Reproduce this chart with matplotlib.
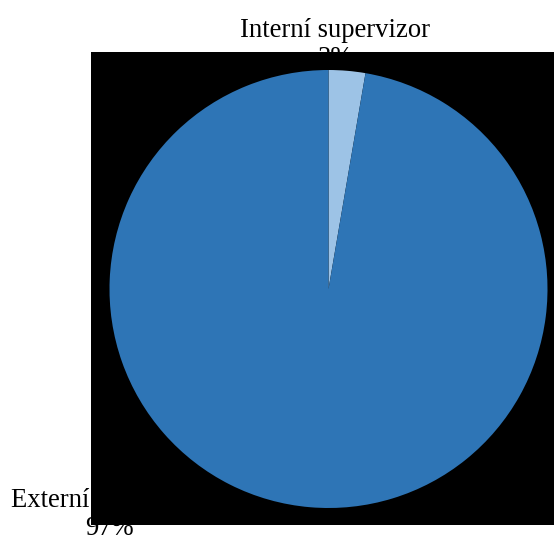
import matplotlib.pyplot as plt
from matplotlib.patches import Rectangle

# odpovedi respondentu
kategorie = ['Interní supervizor', 'Externí supervizor']
pocty = [1, 36]
barvy = ['#9DC3E6', '#2E75B6']

plt.rcParams['font.family'] = ['Liberation Serif', 'DejaVu Serif']

fig = plt.figure(figsize=(5.54, 5.36), dpi=100)
fig.patch.set_facecolor('white')

# kolac: stred (328.5, 247) px, polomer 219 px
ax = fig.add_axes([(328.5 - 219) / 554, (247 - 219) / 536, 438 / 554, 438 / 536])
wedges, _ = ax.pie(pocty, colors=barvy, startangle=90, counterclock=False,
                   radius=1, wedgeprops=dict(linewidth=0))
for w in wedges:
    w.set_zorder(5)
ax.set_xlim(-1, 1)
ax.set_ylim(-1, 1)
ax.set_aspect('equal')

# cerne pozadi pres popisky
ax.add_patch(Rectangle((91 / 554, 11 / 536), 1 - 91 / 554, (525 - 52) / 536,
                       transform=fig.transFigure, facecolor='black',
                       edgecolor='none', zorder=4, clip_on=False))

celkem = sum(pocty)
pozice = [(0.03, 1.118), (-1.0, -1.03)]
for kat, n, (x, y) in zip(kategorie, pocty, pozice):
    ax.text(x, y, f'{kat}\n{100 * n / celkem:.0f}%', ha='center', va='center',
            fontsize=19.2, linespacing=1.17, zorder=3, clip_on=False)

fig.savefig('out.png', dpi=100, facecolor='white')
